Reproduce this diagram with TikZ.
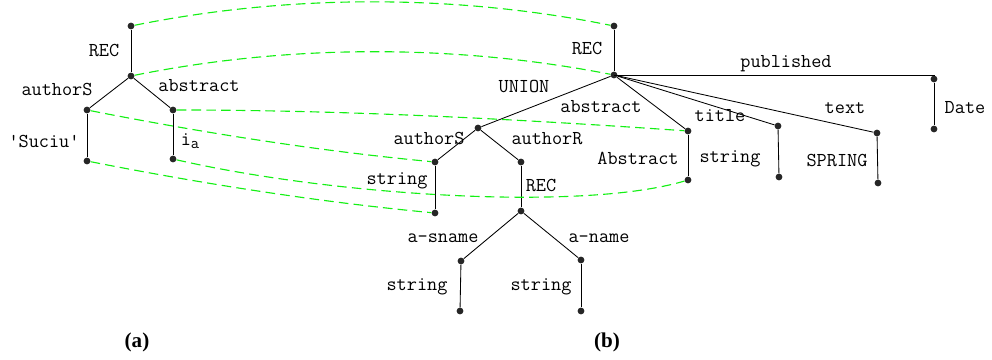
\documentclass[tikz,border=0pt]{standalone}
\usepackage{fontspec}
\setmainfont{Liberation Serif}
\definecolor{matchgreen}{RGB}{20,240,20}
\newcommand{\lblfont}{\fontsize{14}{16}\selectfont\ttfamily}
\newcommand{\subfont}{\fontsize{11.5}{13}\selectfont\ttfamily}
\tikzset{
  pt/.style={circle,fill=black!85,inner sep=0pt,minimum size=1.7mm},
  lab/.style={font=\lblfont,anchor=base,inner sep=0pt},
  edge/.style={line width=0.6pt},
  match/.style={matchgreen,line width=0.8pt,dash pattern=on 2.4mm off 1.3mm},
}
\begin{document}
\begin{tikzpicture}[x=0.25mm,y=-0.25mm]
  \useasboundingbox (0,0) rectangle (992,360);
  % tree (a)
  \node[pt] (aTop)   at (131,26)  {};
  \node[pt] (aRec)   at (131,76)  {};
  \node[pt] (aAuth)  at (87,110)  {};
  \node[pt] (aAbs)   at (173,110) {};
  \node[pt] (aSuciu) at (87,161)  {};
  \node[pt] (aIa)    at (173,159) {};
  \draw[edge] (aTop) -- (aRec);
  \draw[edge] (aRec) -- (aAuth);
  \draw[edge] (aRec) -- (aAbs);
  \draw[edge] (aAuth) -- (aSuciu);
  \draw[edge] (aAbs) -- (aIa);
  \node[lab] (lRecA)   at (104,57) {REC};
  \node[lab] (lAuthA)  at (57,96)  {authorS};
  \node[lab] (lAbsA)   at (199,92) {abstract};
  \node[lab] (lSuciu)  at (44,148) {'Suciu'};
  \node[lab] (lIa)     at (190,146) {i\raisebox{-0.3ex}{\subfont a}};
  % tree (b)
  \node[pt] (bTop)       at (614,26)  {};
  \node[pt] (bRec)       at (614,75)  {};
  \node[pt] (bUnion)     at (478,128) {};
  \node[pt] (bAuthS)     at (435,162) {};
  \node[pt] (bAuthSLeaf) at (435,213) {};
  \node[pt] (bAuthR)     at (521,162) {};
  \node[pt] (bRecR)      at (521,211) {};
  \node[pt] (bSname)     at (461,261) {};
  \node[pt] (bSnameLeaf) at (460,311) {};
  \node[pt] (bName)      at (581,260) {};
  \node[pt] (bNameLeaf)  at (581,311) {};
  \node[pt] (bAbs)       at (688,131) {};
  \node[pt] (bAbsLeaf)   at (688,180) {};
  \node[pt] (bTitle)     at (778,126) {};
  \node[pt] (bTitleLeaf) at (779,177) {};
  \node[pt] (bText)      at (877,133) {};
  \node[pt] (bTextLeaf)  at (878,183) {};
  \node[pt] (bPub)       at (934,79)  {};
  \node[pt] (bPubLeaf)   at (934,129) {};
  \draw[edge] (bTop) -- (bRec);
  \draw[edge] (bRec) -- (bUnion);
  \draw[edge] (bUnion) -- (bAuthS);
  \draw[edge] (bUnion) -- (bAuthR);
  \draw[edge] (bAuthS) -- (bAuthSLeaf);
  \draw[edge] (bAuthR) -- (bRecR);
  \draw[edge] (bRecR) -- (bSname);
  \draw[edge] (bRecR) -- (bName);
  \draw[edge] (bSname) -- (bSnameLeaf);
  \draw[edge] (bName) -- (bNameLeaf);
  \draw[edge] (bRec) -- (bAbs);
  \draw[edge] (bAbs) -- (bAbsLeaf);
  \draw[edge] (bRec) -- (bTitle);
  \draw[edge] (bTitle) -- (bTitleLeaf);
  \draw[edge] (bRec) -- (bText);
  \draw[edge] (bText) -- (bTextLeaf);
  \draw[edge] (bRec.center) -| (bPub);
  \draw[edge] (bPub) -- (bPubLeaf);
  \node[lab] (lRecB)    at (587,55)  {REC};
  \node[lab] (lUnion)   at (524,93)  {UNION};
  \node[lab] (lAbsB)    at (601,113) {abstract};
  \node[lab] (lAuthS)   at (429,145) {authorS};
  \node[lab] (lAuthR)   at (547,145) {authorR};
  \node[lab] (lStrS)    at (397,185) {string};
  \node[lab] (lRecR)    at (541,192) {REC};
  \node[lab] (lAbsType) at (638,165) {Abstract};
  \node[lab] (lTitle)   at (720,122) {title};
  \node[lab] (lStrT)    at (730,163) {string};
  \node[lab] (lPub)     at (786,68)  {published};
  \node[lab] (lText)    at (845,114) {text};
  \node[lab] (lSpring)  at (837,167) {SPRING};
  \node[lab] (lDate)    at (965,114) {Date};
  \node[lab] (lSname)   at (443,243) {a-sname};
  \node[lab] (lName)    at (599,243) {a-name};
  \node[lab] (lStrL)    at (417,291) {string};
  \node[lab] (lStrR)    at (541,291) {string};
  % correspondences between (a) and (b)
  \draw[match] (aTop) .. controls (290,-6) and (455,-6) .. (bTop);
  \draw[match] (aRec) .. controls (290,44) and (455,44) .. (bRec);
  \draw[match] (aAuth) .. controls (204,133) and (319,151) .. (bAuthS);
  \draw[match] (aAbs) .. controls (344,110) and (515,119) .. (bAbs);
  \draw[match] (aSuciu) .. controls (204,184) and (319,202) .. (bAuthSLeaf);
  \draw[match] (aIa) .. controls (330,195) and (580,212) .. (bAbsLeaf);
  % captions
  \node[anchor=base,font=\fontsize{15}{17}\selectfont\bfseries] (capA) at (137,348) {(a)};
  \node[anchor=base,font=\fontsize{15}{17}\selectfont\bfseries] (capB) at (607,348) {(b)};
\end{tikzpicture}
\end{document}
